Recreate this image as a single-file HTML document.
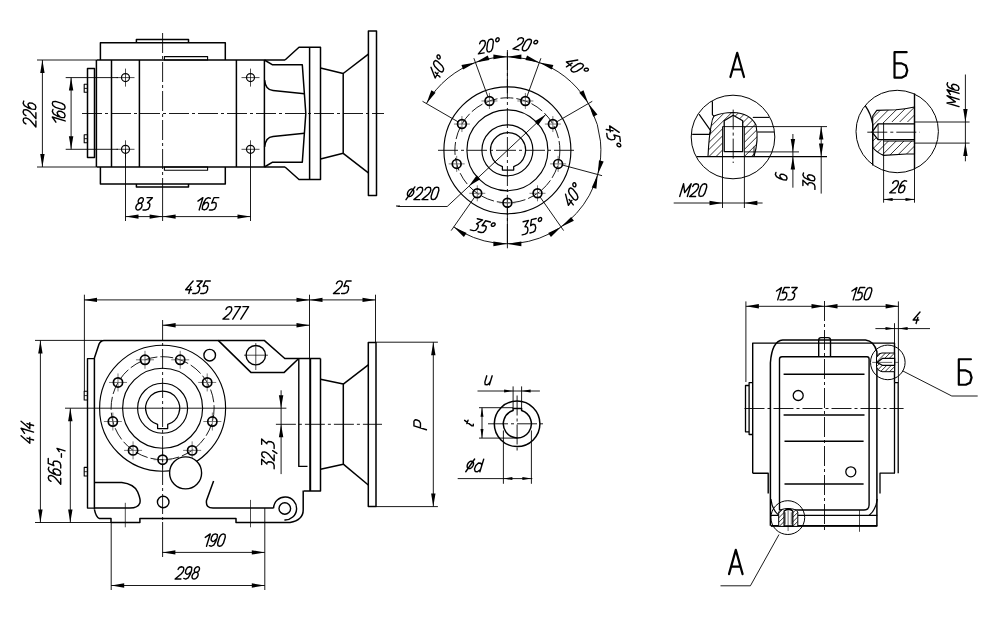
<!DOCTYPE html>
<html><head><meta charset="utf-8"><style>
html,body{margin:0;padding:0;background:#fff;}
svg{display:block;}
text{font-family:"Liberation Sans",sans-serif;fill:#000;}
</style></head><body>
<svg width="990" height="624" viewBox="0 0 990 624">
<polyline points="136.4,42.7 136.4,39.5 188.5,39.5 188.5,42.7" fill="none" stroke="#000" stroke-width="1.5" stroke-linejoin="round"/>
<polyline points="100.4,60 100.4,42.7 225.3,42.7 225.3,60" fill="none" stroke="#000" stroke-width="1.5" stroke-linejoin="round"/>
<polygon points="164.4,56.6 207.6,56.6 207.6,60 164.4,60" fill="none" stroke="#000" stroke-width="1.1" stroke-linejoin="round"/>
<polyline points="136.4,184 136.4,187.1 188.5,187.1 188.5,184" fill="none" stroke="#000" stroke-width="1.5" stroke-linejoin="round"/>
<polyline points="100.4,167 100.4,184 225.3,184 225.3,167" fill="none" stroke="#000" stroke-width="1.5" stroke-linejoin="round"/>
<polygon points="164.4,167 207.6,167 207.6,170.2 164.4,170.2" fill="none" stroke="#000" stroke-width="1.1" stroke-linejoin="round"/>
<line x1="96.4" y1="60" x2="285" y2="60" stroke="#000" stroke-width="1.5"/>
<line x1="96.4" y1="167" x2="285" y2="167" stroke="#000" stroke-width="1.5"/>
<line x1="96.4" y1="60" x2="96.4" y2="167" stroke="#000" stroke-width="1.5"/>
<line x1="111.5" y1="60" x2="111.5" y2="167" stroke="#000" stroke-width="1.5"/>
<line x1="139.4" y1="60" x2="139.4" y2="167" stroke="#000" stroke-width="1.5"/>
<line x1="236.4" y1="60" x2="236.4" y2="167" stroke="#000" stroke-width="1.5"/>
<line x1="264.4" y1="60" x2="264.4" y2="167" stroke="#000" stroke-width="1.5"/>
<polygon points="87.5,68.5 94.5,68.5 94.5,157.4 87.5,157.4" fill="none" stroke="#000" stroke-width="1.5" stroke-linejoin="round"/>
<polygon points="84.2,84.2 87.5,84.2 87.5,92.3 84.2,92.3" fill="none" stroke="#000" stroke-width="1.1" stroke-linejoin="round"/>
<polygon points="84.2,134.7 87.5,134.7 87.5,142.8 84.2,142.8" fill="none" stroke="#000" stroke-width="1.1" stroke-linejoin="round"/>
<line x1="84.2" y1="88.4" x2="87.5" y2="88.4" stroke="#000" stroke-width="0.9"/>
<line x1="84.2" y1="138.7" x2="87.5" y2="138.7" stroke="#000" stroke-width="0.9"/>
<circle cx="125.5" cy="77.6" r="4" fill="none" stroke="#000" stroke-width="1.2"/>
<line x1="116.5" y1="77.6" x2="134.5" y2="77.6" stroke="#000" stroke-width="0.7"/>
<line x1="125.5" y1="68.6" x2="125.5" y2="86.6" stroke="#000" stroke-width="0.7"/>
<circle cx="125.5" cy="149.3" r="4" fill="none" stroke="#000" stroke-width="1.2"/>
<line x1="116.5" y1="149.3" x2="134.5" y2="149.3" stroke="#000" stroke-width="0.7"/>
<line x1="125.5" y1="140.3" x2="125.5" y2="158.3" stroke="#000" stroke-width="0.7"/>
<circle cx="250.5" cy="77.6" r="4" fill="none" stroke="#000" stroke-width="1.2"/>
<line x1="241.5" y1="77.6" x2="259.5" y2="77.6" stroke="#000" stroke-width="0.7"/>
<line x1="250.5" y1="68.6" x2="250.5" y2="86.6" stroke="#000" stroke-width="0.7"/>
<circle cx="250.5" cy="149.3" r="4" fill="none" stroke="#000" stroke-width="1.2"/>
<line x1="241.5" y1="149.3" x2="259.5" y2="149.3" stroke="#000" stroke-width="0.7"/>
<line x1="250.5" y1="140.3" x2="250.5" y2="158.3" stroke="#000" stroke-width="0.7"/>
<line x1="162.6" y1="33" x2="162.6" y2="187" stroke="#000" stroke-width="0.9" stroke-dasharray="20 3 3 3"/>
<line x1="162.6" y1="187" x2="162.6" y2="221" stroke="#000" stroke-width="0.9"/>
<line x1="82" y1="113.5" x2="384" y2="113.5" stroke="#000" stroke-width="0.9" stroke-dasharray="20 3 3 3"/>
<path d="M264.4 60 L272.2 64.7 L302.3 64.7 L305.8 113.5 L302.3 162.3 L272.2 162.3 L264.4 167" fill="none" stroke="#000" stroke-width="1.5" stroke-linejoin="round" />
<path d="M264.6 80 Q265.5 90 273 90.6 L304.5 93.7" fill="none" stroke="#000" stroke-width="1.5" stroke-linejoin="round" />
<path d="M264.6 147 Q265.5 137 273 136.4 L304.5 133.3" fill="none" stroke="#000" stroke-width="1.5" stroke-linejoin="round" />
<polyline points="285,60 299,47.3 320.5,47.3 320.5,179.5 299,179.5 285,167" fill="none" stroke="#000" stroke-width="1.5" stroke-linejoin="round"/>
<line x1="309.6" y1="47.3" x2="309.6" y2="179.5" stroke="#000" stroke-width="1.5"/>
<polyline points="320.5,68 343.2,73.5 343.2,153.3 320.5,158.9" fill="none" stroke="#000" stroke-width="1.5" stroke-linejoin="round"/>
<line x1="343.2" y1="73.5" x2="368.4" y2="54.1" stroke="#000" stroke-width="1.5"/>
<line x1="343.2" y1="153.3" x2="368.4" y2="172.8" stroke="#000" stroke-width="1.5"/>
<polygon points="368.4,30.9 376.5,30.9 376.5,195.5 368.4,195.5" fill="none" stroke="#000" stroke-width="1.5" stroke-linejoin="round"/>
<line x1="37" y1="60" x2="96" y2="60" stroke="#000" stroke-width="0.9"/>
<line x1="37" y1="167" x2="96" y2="167" stroke="#000" stroke-width="0.9"/>
<line x1="42.4" y1="60" x2="42.4" y2="167" stroke="#000" stroke-width="0.9"/>
<polygon points="42.4,60 44.6,73 40.2,73" fill="#000"/>
<polygon points="42.4,167 40.2,154 44.6,154" fill="#000"/>
<line x1="65.7" y1="77.6" x2="118" y2="77.6" stroke="#000" stroke-width="0.9"/>
<line x1="65.7" y1="149.3" x2="118" y2="149.3" stroke="#000" stroke-width="0.9"/>
<line x1="71.1" y1="77.6" x2="71.1" y2="149.3" stroke="#000" stroke-width="0.9"/>
<polygon points="71.1,77.6 73.3,90.6 68.9,90.6" fill="#000"/>
<polygon points="71.1,149.3 68.9,136.3 73.3,136.3" fill="#000"/>
<path transform="translate(29.5 113.7) rotate(-90)" d="M-10.23 -3.58 L-8.88 -5.63 L-6.66 -6.4 L-4.63 -5.76 L-4.22 -3.58 L-5.1 -1.28 L-6.79 0.9 L-13.28 6.4 L-7.27 6.4 M-1.91 -3.58 L-0.56 -5.63 L1.66 -6.4 L3.69 -5.76 L4.1 -3.58 L3.22 -1.28 L1.53 0.9 L-4.96 6.4 L1.05 6.4 M12.61 -5.76 L10.58 -6.4 L8.08 -5.12 L5.96 -1.54 L4.53 2.56 L4.31 5.63 L6.36 6.4 L8.7 5.63 L10.43 2.94 L10.85 0 L9.39 -1.54 L7.43 -1.02 L5.48 1.02" fill="none" stroke="#000" stroke-width="1.4" stroke-linecap="round" stroke-linejoin="round"/>
<path transform="translate(58.7 112.7) rotate(-90)" d="M-9.51 -2.82 L-4.32 -6.4 L-8.23 6.4 M3.33 -5.76 L1.3 -6.4 L-1.2 -5.12 L-3.32 -1.54 L-4.75 2.56 L-4.97 5.63 L-2.92 6.4 L-0.58 5.63 L1.15 2.94 L1.57 0 L0.11 -1.54 L-1.85 -1.02 L-3.8 1.02 M9.32 -6.4 L11.05 -5.76 L11.35 -3.2 L9.39 3.2 L7.52 5.76 L5.4 6.4 L3.67 5.76 L3.37 3.2 L5.33 -3.2 L7.2 -5.76 L9.32 -6.4" fill="none" stroke="#000" stroke-width="1.4" stroke-linecap="round" stroke-linejoin="round"/>
<line x1="125.5" y1="149.3" x2="125.5" y2="221" stroke="#000" stroke-width="0.9"/>
<line x1="250.5" y1="149.3" x2="250.5" y2="221" stroke="#000" stroke-width="0.9"/>
<line x1="125.5" y1="216.6" x2="162.6" y2="216.6" stroke="#000" stroke-width="0.9"/>
<polygon points="125.5,216.6 138.5,214.4 138.5,218.8" fill="#000"/>
<polygon points="162.6,216.6 149.6,218.8 149.6,214.4" fill="#000"/>
<line x1="162.6" y1="216.6" x2="250.5" y2="216.6" stroke="#000" stroke-width="0.9"/>
<polygon points="162.6,216.6 175.6,214.4 175.6,218.8" fill="#000"/>
<polygon points="250.5,216.6 237.5,218.8 237.5,214.4" fill="#000"/>
<path transform="translate(143.7 203.8)" d="M-0.49 -3.32 L-0.35 -4.05 L-0.39 -4.74 L-0.59 -5.32 L-0.96 -5.77 L-1.46 -6.05 L-2.06 -6.15 L-2.71 -6.05 L-3.39 -5.77 L-4.03 -5.32 L-4.59 -4.74 L-5.04 -4.05 L-5.35 -3.32 L-5.49 -2.59 L-5.46 -1.91 L-5.25 -1.32 L-4.88 -0.87 L-4.38 -0.59 L-3.79 -0.49 L-3.13 -0.59 L-2.46 -0.87 L-1.82 -1.32 L-1.25 -1.91 L-0.8 -2.59 L-0.49 -3.32 M-1.87 2.71 L-1.7 1.81 L-1.73 0.98 L-1.97 0.27 L-2.41 -0.28 L-3 -0.62 L-3.71 -0.74 L-4.49 -0.62 L-5.3 -0.28 L-6.06 0.27 L-6.74 0.98 L-7.28 1.81 L-7.65 2.71 L-7.83 3.6 L-7.79 4.43 L-7.55 5.14 L-7.12 5.69 L-6.53 6.03 L-5.82 6.15 L-5.03 6.03 L-4.23 5.69 L-3.46 5.14 L-2.79 4.43 L-2.24 3.6 L-1.87 2.71 M3.33 -6.15 L8.71 -6.15 L3.85 -0.98 L4.98 -0.98 L6.15 0.37 L5.92 2.95 L4.49 5.41 L2.4 6.15 L-0.71 6.15" fill="none" stroke="#000" stroke-width="1.4" stroke-linecap="round" stroke-linejoin="round"/>
<path transform="translate(207 203.8)" d="M-9.07 -2.71 L-4.09 -6.15 L-7.85 6.15 M3.26 -5.54 L1.31 -6.15 L-1.09 -4.92 L-3.13 -1.48 L-4.5 2.46 L-4.71 5.41 L-2.74 6.15 L-0.49 5.41 L1.16 2.83 L1.57 0 L0.17 -1.48 L-1.72 -0.98 L-3.59 0.98 M11.78 -6.15 L6.97 -6.15 L4.71 -0.62 L7.24 -1.48 L9.07 -0.62 L9.15 2.46 L7.61 5.29 L5.48 6.15 L2.36 6.15" fill="none" stroke="#000" stroke-width="1.4" stroke-linecap="round" stroke-linejoin="round"/>
<line x1="396" y1="206" x2="400" y2="206" stroke="#000" stroke-width="1"/>
<circle cx="507.4" cy="150.3" r="63.5" fill="none" stroke="#000" stroke-width="1.15"/>
<circle cx="507.4" cy="150.3" r="40.5" fill="none" stroke="#000" stroke-width="1.15"/>
<circle cx="507.4" cy="150.3" r="25.5" fill="none" stroke="#000" stroke-width="1.15"/>
<path d="M502.4 166.63 A17.5 17.5 0 1 1 513.7 166.63 L513.7 170 L502.4 170 Z" fill="none" stroke="#000" stroke-width="1.25" stroke-linejoin="round" />
<circle cx="507.4" cy="150.3" r="52.5" fill="none" stroke="#000" stroke-width="0.9" stroke-dasharray="13 3"/>
<line x1="507.4" y1="50" x2="507.4" y2="247" stroke="#000" stroke-width="0.9" stroke-dasharray="20 3 3 3"/>
<line x1="438" y1="150.3" x2="577" y2="150.3" stroke="#000" stroke-width="0.9" stroke-dasharray="20 3 3 3"/>
<line x1="481.44" y1="100.97" x2="497.44" y2="100.97" stroke="#555" stroke-width="0.8"/>
<line x1="489.44" y1="92.97" x2="489.44" y2="108.97" stroke="#555" stroke-width="0.8"/>
<circle cx="489.44" cy="100.97" r="4.4" fill="none" stroke="#000" stroke-width="1.7"/>
<line x1="517.36" y1="100.97" x2="533.36" y2="100.97" stroke="#555" stroke-width="0.8"/>
<line x1="525.36" y1="92.97" x2="525.36" y2="108.97" stroke="#555" stroke-width="0.8"/>
<circle cx="525.36" cy="100.97" r="4.4" fill="none" stroke="#000" stroke-width="1.7"/>
<line x1="544.87" y1="124.05" x2="560.87" y2="124.05" stroke="#555" stroke-width="0.8"/>
<line x1="552.87" y1="116.05" x2="552.87" y2="132.05" stroke="#555" stroke-width="0.8"/>
<circle cx="552.87" cy="124.05" r="4.4" fill="none" stroke="#000" stroke-width="1.7"/>
<line x1="550.11" y1="163.89" x2="566.11" y2="163.89" stroke="#555" stroke-width="0.8"/>
<line x1="558.11" y1="155.89" x2="558.11" y2="171.89" stroke="#555" stroke-width="0.8"/>
<circle cx="558.11" cy="163.89" r="4.4" fill="none" stroke="#000" stroke-width="1.7"/>
<line x1="529.51" y1="193.31" x2="545.51" y2="193.31" stroke="#555" stroke-width="0.8"/>
<line x1="537.51" y1="185.31" x2="537.51" y2="201.31" stroke="#555" stroke-width="0.8"/>
<circle cx="537.51" cy="193.31" r="4.4" fill="none" stroke="#000" stroke-width="1.7"/>
<line x1="499.4" y1="202.8" x2="515.4" y2="202.8" stroke="#555" stroke-width="0.8"/>
<line x1="507.4" y1="194.8" x2="507.4" y2="210.8" stroke="#555" stroke-width="0.8"/>
<circle cx="507.4" cy="202.8" r="4.4" fill="none" stroke="#000" stroke-width="1.7"/>
<line x1="469.29" y1="193.31" x2="485.29" y2="193.31" stroke="#555" stroke-width="0.8"/>
<line x1="477.29" y1="185.31" x2="477.29" y2="201.31" stroke="#555" stroke-width="0.8"/>
<circle cx="477.29" cy="193.31" r="4.4" fill="none" stroke="#000" stroke-width="1.7"/>
<line x1="448.69" y1="163.89" x2="464.69" y2="163.89" stroke="#555" stroke-width="0.8"/>
<line x1="456.69" y1="155.89" x2="456.69" y2="171.89" stroke="#555" stroke-width="0.8"/>
<circle cx="456.69" cy="163.89" r="4.4" fill="none" stroke="#000" stroke-width="1.7"/>
<line x1="453.93" y1="124.05" x2="469.93" y2="124.05" stroke="#555" stroke-width="0.8"/>
<line x1="461.93" y1="116.05" x2="461.93" y2="132.05" stroke="#555" stroke-width="0.8"/>
<circle cx="461.93" cy="124.05" r="4.4" fill="none" stroke="#000" stroke-width="1.7"/>
<line x1="458.04" y1="121.8" x2="422.53" y2="101.3" stroke="#000" stroke-width="0.9"/>
<line x1="487.9" y1="96.74" x2="473.88" y2="58.21" stroke="#000" stroke-width="0.9"/>
<line x1="507.4" y1="93.3" x2="507.4" y2="52.3" stroke="#000" stroke-width="0.9"/>
<line x1="526.9" y1="96.74" x2="540.92" y2="58.21" stroke="#000" stroke-width="0.9"/>
<line x1="556.76" y1="121.8" x2="592.27" y2="101.3" stroke="#000" stroke-width="0.9"/>
<line x1="562.46" y1="165.05" x2="602.06" y2="175.66" stroke="#000" stroke-width="0.9"/>
<line x1="540.09" y1="196.99" x2="563.61" y2="230.58" stroke="#000" stroke-width="0.9"/>
<line x1="507.4" y1="207.3" x2="507.4" y2="248.3" stroke="#000" stroke-width="0.9"/>
<line x1="474.71" y1="196.99" x2="451.19" y2="230.58" stroke="#000" stroke-width="0.9"/>
<path d="M426.43 103.55 A93.5 93.5 0 0 1 597.71 174.5" fill="none" stroke="#000" stroke-width="0.9" stroke-linejoin="round" />
<path d="M597.71 174.5 A93.5 93.5 0 0 1 453.77 226.89" fill="none" stroke="#000" stroke-width="0.9" stroke-linejoin="round" />
<polygon points="426.43,103.55 431.35,90.23 435.51,92.63" fill="#000"/>
<polygon points="475.42,62.44 463.09,69.48 461.44,64.97" fill="#000"/>
<polygon points="475.42,62.44 487.76,55.4 489.4,59.91" fill="#000"/>
<polygon points="507.4,56.8 493.4,59.2 493.4,54.4" fill="#000"/>
<polygon points="507.4,56.8 521.4,54.4 521.4,59.2" fill="#000"/>
<polygon points="539.38,62.44 525.4,59.91 527.04,55.4" fill="#000"/>
<polygon points="539.38,62.44 553.36,64.97 551.71,69.48" fill="#000"/>
<polygon points="588.37,103.55 579.29,92.63 583.45,90.23" fill="#000"/>
<polygon points="588.37,103.55 597.45,114.47 593.29,116.87" fill="#000"/>
<polygon points="597.71,174.5 599.02,160.36 603.66,161.6" fill="#000"/>
<polygon points="597.71,174.5 596.41,188.64 591.77,187.4" fill="#000"/>
<polygon points="561.03,226.89 571.12,216.89 573.87,220.83" fill="#000"/>
<polygon points="561.03,226.89 550.94,236.89 548.18,232.95" fill="#000"/>
<polygon points="507.4,243.8 521.4,241.4 521.4,246.2" fill="#000"/>
<polygon points="507.4,243.8 493.4,246.2 493.4,241.4" fill="#000"/>
<polygon points="453.77,226.89 466.62,232.95 463.86,236.89" fill="#000"/>
<line x1="545.8" y1="114.5" x2="447.2" y2="206.5" stroke="#000" stroke-width="0.9"/>
<line x1="447.2" y1="206.5" x2="397.6" y2="206.5" stroke="#000" stroke-width="0.9"/>
<polygon points="545.8,114.5 538.06,125.26 534.52,121.46" fill="#000"/>
<polygon points="469,186.1 476.74,175.34 480.28,179.14" fill="#000"/>
<path transform="translate(422.6 193.4)" d="M-9 -0.63 L-8.8 -1.6 L-8.83 -2.5 L-9.06 -3.28 L-9.5 -3.87 L-10.11 -4.25 L-10.85 -4.38 L-11.67 -4.25 L-12.5 -3.87 L-13.31 -3.28 L-14.02 -2.5 L-14.6 -1.6 L-15 -0.63 L-15.19 0.35 L-15.17 1.25 L-14.93 2.03 L-14.49 2.62 L-13.88 3 L-13.14 3.12 L-12.33 3 L-11.49 2.62 L-10.69 2.03 L-9.97 1.25 L-9.4 0.35 L-9 -0.62 M-16.6 6.25 L-7.7 -6.5 M-5.74 -3.5 L-4.43 -5.5 L-2.26 -6.25 L-0.28 -5.62 L0.13 -3.5 L-0.73 -1.25 L-2.38 0.88 L-8.72 6.25 L-2.85 6.25 M2.38 -3.5 L3.7 -5.5 L5.87 -6.25 L7.85 -5.62 L8.26 -3.5 L7.39 -1.25 L5.74 0.88 L-0.6 6.25 L5.28 6.25 M14.29 -6.25 L15.97 -5.62 L16.27 -3.12 L14.36 3.12 L12.54 5.62 L10.46 6.25 L8.78 5.62 L8.48 3.12 L10.39 -3.12 L12.21 -5.62 L14.29 -6.25" fill="none" stroke="#000" stroke-width="1.4" stroke-linecap="round" stroke-linejoin="round"/>
<path transform="translate(438 67.4) rotate(-62)" d="M-3.23 -6.25 L-10.7 2.5 L-4.7 2.5 M-5.54 -0.25 L-7.53 6.25 M3.16 -6.25 L4.85 -5.62 L5.14 -3.12 L3.23 3.12 L1.41 5.62 L-0.66 6.25 L-2.35 5.62 L-2.64 3.12 L-0.73 -3.12 L1.09 -5.62 L3.16 -6.25 M11.28 -4.38 L11.33 -5.31 L10.9 -6 L10.1 -6.25 L9.15 -6 L8.3 -5.31 L7.78 -4.38 L7.72 -3.44 L8.15 -2.75 L8.95 -2.5 L9.9 -2.75 L10.75 -3.44 L11.28 -4.38" fill="none" stroke="#000" stroke-width="1.4" stroke-linecap="round" stroke-linejoin="round"/>
<path transform="translate(488.9 45.7) rotate(-10)" d="M-8.8 -3.5 L-7.49 -5.5 L-5.32 -6.25 L-3.34 -5.62 L-2.93 -3.5 L-3.79 -1.25 L-5.44 0.88 L-11.79 6.25 L-5.91 6.25 M3.1 -6.25 L4.79 -5.62 L5.08 -3.12 L3.17 3.12 L1.35 5.62 L-0.72 6.25 L-2.41 5.62 L-2.71 3.12 L-0.79 -3.12 L1.03 -5.62 L3.1 -6.25 M11.21 -4.38 L11.26 -5.31 L10.83 -6 L10.04 -6.25 L9.08 -6 L8.23 -5.31 L7.71 -4.38 L7.66 -3.44 L8.09 -2.75 L8.89 -2.5 L9.84 -2.75 L10.69 -3.44 L11.21 -4.38" fill="none" stroke="#000" stroke-width="1.4" stroke-linecap="round" stroke-linejoin="round"/>
<path transform="translate(525.7 44.8) rotate(10)" d="M-8.8 -3.5 L-7.49 -5.5 L-5.32 -6.25 L-3.34 -5.62 L-2.93 -3.5 L-3.79 -1.25 L-5.44 0.88 L-11.79 6.25 L-5.91 6.25 M3.1 -6.25 L4.79 -5.62 L5.08 -3.12 L3.17 3.12 L1.35 5.62 L-0.72 6.25 L-2.41 5.62 L-2.71 3.12 L-0.79 -3.12 L1.03 -5.62 L3.1 -6.25 M11.21 -4.38 L11.26 -5.31 L10.83 -6 L10.04 -6.25 L9.08 -6 L8.23 -5.31 L7.71 -4.38 L7.66 -3.44 L8.09 -2.75 L8.89 -2.5 L9.84 -2.75 L10.69 -3.44 L11.21 -4.38" fill="none" stroke="#000" stroke-width="1.4" stroke-linecap="round" stroke-linejoin="round"/>
<path transform="translate(576.2 66.9) rotate(40)" d="M-3.23 -6.25 L-10.7 2.5 L-4.7 2.5 M-5.54 -0.25 L-7.53 6.25 M3.16 -6.25 L4.85 -5.62 L5.14 -3.12 L3.23 3.12 L1.41 5.62 L-0.66 6.25 L-2.35 5.62 L-2.64 3.12 L-0.73 -3.12 L1.09 -5.62 L3.16 -6.25 M11.28 -4.38 L11.33 -5.31 L10.9 -6 L10.1 -6.25 L9.15 -6 L8.3 -5.31 L7.78 -4.38 L7.72 -3.44 L8.15 -2.75 L8.95 -2.5 L9.9 -2.75 L10.75 -3.44 L11.28 -4.38" fill="none" stroke="#000" stroke-width="1.4" stroke-linecap="round" stroke-linejoin="round"/>
<path transform="translate(613.4 136.2) rotate(83)" d="M-3.16 -6.25 L-10.64 2.5 L-4.64 2.5 M-5.48 -0.25 L-7.47 6.25 M6.04 -6.25 L1.15 -6.25 L-1.15 -0.63 L1.42 -1.5 L3.28 -0.63 L3.36 2.5 L1.79 5.38 L-0.37 6.25 L-3.54 6.25 M11.21 -4.38 L11.26 -5.31 L10.83 -6 L10.04 -6.25 L9.08 -6 L8.23 -5.31 L7.71 -4.38 L7.66 -3.44 L8.09 -2.75 L8.89 -2.5 L9.84 -2.75 L10.69 -3.44 L11.21 -4.38" fill="none" stroke="#000" stroke-width="1.4" stroke-linecap="round" stroke-linejoin="round"/>
<path transform="translate(572.5 195.1) rotate(-55)" d="M-3.23 -6.25 L-10.7 2.5 L-4.7 2.5 M-5.54 -0.25 L-7.53 6.25 M3.16 -6.25 L4.85 -5.62 L5.14 -3.12 L3.23 3.12 L1.41 5.62 L-0.66 6.25 L-2.35 5.62 L-2.64 3.12 L-0.73 -3.12 L1.09 -5.62 L3.16 -6.25 M11.28 -4.38 L11.33 -5.31 L10.9 -6 L10.1 -6.25 L9.15 -6 L8.3 -5.31 L7.78 -4.38 L7.72 -3.44 L8.15 -2.75 L8.95 -2.5 L9.9 -2.75 L10.75 -3.44 L11.28 -4.38" fill="none" stroke="#000" stroke-width="1.4" stroke-linecap="round" stroke-linejoin="round"/>
<path transform="translate(483.1 226.6) rotate(14)" d="M-7.55 -6.25 L-2.09 -6.25 L-7.03 -1 L-5.88 -1 L-4.69 0.38 L-4.92 3 L-6.37 5.5 L-8.5 6.25 L-11.66 6.25 M5.91 -6.25 L1.02 -6.25 L-1.27 -0.63 L1.3 -1.5 L3.16 -0.63 L3.24 2.5 L1.67 5.38 L-0.5 6.25 L-3.66 6.25 M11.09 -4.38 L11.14 -5.31 L10.71 -6 L9.91 -6.25 L8.96 -6 L8.11 -5.31 L7.59 -4.38 L7.54 -3.44 L7.97 -2.75 L8.76 -2.5 L9.72 -2.75 L10.57 -3.44 L11.09 -4.38" fill="none" stroke="#000" stroke-width="1.4" stroke-linecap="round" stroke-linejoin="round"/>
<path transform="translate(532 226) rotate(-14)" d="M-7.55 -6.25 L-2.09 -6.25 L-7.03 -1 L-5.88 -1 L-4.69 0.38 L-4.92 3 L-6.37 5.5 L-8.5 6.25 L-11.66 6.25 M5.91 -6.25 L1.02 -6.25 L-1.27 -0.63 L1.3 -1.5 L3.16 -0.63 L3.24 2.5 L1.67 5.38 L-0.5 6.25 L-3.66 6.25 M11.09 -4.38 L11.14 -5.31 L10.71 -6 L9.91 -6.25 L8.96 -6 L8.11 -5.31 L7.59 -4.38 L7.54 -3.44 L7.97 -2.75 L8.76 -2.5 L9.72 -2.75 L10.57 -3.44 L11.09 -4.38" fill="none" stroke="#000" stroke-width="1.4" stroke-linecap="round" stroke-linejoin="round"/>
<path transform="translate(737.2 64.9)" d="M-6.8 12.15 L-0 -12.15 L6.8 12.15 M-4.22 4.62 L4.22 4.62" fill="none" stroke="#000" stroke-width="2.2" stroke-linecap="round" stroke-linejoin="round"/>
<circle cx="733" cy="137" r="41.8" fill="none" stroke="#000" stroke-width="1.0"/>
<clipPath id="hc1"><path clip-rule="evenodd" d="M714 116 Q722 112.5 733 112.5 Q750 113 756 125 Q759 140 754 156.5 L708 156.5 Q709 135 711.5 124 Q712 119 714 116 Z M722.5 126.6 L722.5 156.5 L744.4 156.5 L744.4 126.6 L742.7 126.6 L742.7 120.8 L733.2 115.2 L724.2 120.8 L724.2 126.6 Z"/></clipPath>
<g clip-path="url(#hc1)"><line x1="658" y1="158" x2="706" y2="110" stroke="#000" stroke-width="0.8"/><line x1="665.07" y1="158" x2="713.07" y2="110" stroke="#000" stroke-width="0.8"/><line x1="672.14" y1="158" x2="720.14" y2="110" stroke="#000" stroke-width="0.8"/><line x1="679.21" y1="158" x2="727.21" y2="110" stroke="#000" stroke-width="0.8"/><line x1="686.28" y1="158" x2="734.28" y2="110" stroke="#000" stroke-width="0.8"/><line x1="693.35" y1="158" x2="741.35" y2="110" stroke="#000" stroke-width="0.8"/><line x1="700.42" y1="158" x2="748.42" y2="110" stroke="#000" stroke-width="0.8"/><line x1="707.49" y1="158" x2="755.49" y2="110" stroke="#000" stroke-width="0.8"/><line x1="714.56" y1="158" x2="762.56" y2="110" stroke="#000" stroke-width="0.8"/><line x1="721.63" y1="158" x2="769.63" y2="110" stroke="#000" stroke-width="0.8"/><line x1="728.7" y1="158" x2="776.7" y2="110" stroke="#000" stroke-width="0.8"/><line x1="735.77" y1="158" x2="783.77" y2="110" stroke="#000" stroke-width="0.8"/><line x1="742.84" y1="158" x2="790.84" y2="110" stroke="#000" stroke-width="0.8"/><line x1="749.91" y1="158" x2="797.91" y2="110" stroke="#000" stroke-width="0.8"/><line x1="756.98" y1="158" x2="804.98" y2="110" stroke="#000" stroke-width="0.8"/></g>
<path d="M714 116 Q722 112.5 733 112.5 Q750 113 756 125 Q759 140 754 156.5 L708 156.5 Q709 135 711.5 124 Q712 119 714 116 Z" fill="none" stroke="#000" stroke-width="1.1"/>
<polyline points="724.2,151.7 724.2,120.8 733.2,115.2 742.7,120.8 742.7,151.7 724.2,151.7" fill="none" stroke="#000" stroke-width="1.3" stroke-linejoin="round"/>
<line x1="722.5" y1="126.6" x2="722.5" y2="208" stroke="#000" stroke-width="0.9"/>
<line x1="744.4" y1="126.6" x2="744.4" y2="208" stroke="#000" stroke-width="0.9"/>
<line x1="722.5" y1="126.6" x2="827" y2="126.6" stroke="#000" stroke-width="0.9"/>
<line x1="696.7" y1="156.6" x2="827" y2="156.6" stroke="#000" stroke-width="1.1"/>
<line x1="744.4" y1="151.9" x2="799" y2="151.9" stroke="#000" stroke-width="0.9"/>
<line x1="752.8" y1="117.4" x2="769" y2="117.4" stroke="#000" stroke-width="1.1"/>
<line x1="757.3" y1="132" x2="774.2" y2="132" stroke="#000" stroke-width="1.1"/>
<line x1="754" y1="146.6" x2="754" y2="156.6" stroke="#000" stroke-width="0.9"/>
<polyline points="712.4,101.2 712.4,114.6 714.1,116.3" fill="none" stroke="#000" stroke-width="1.2" stroke-linejoin="round"/>
<polyline points="699,114.1 710.8,130.9 709.6,134.3 692.2,134.3" fill="none" stroke="#000" stroke-width="1.2" stroke-linejoin="round"/>
<line x1="733.2" y1="109.6" x2="733.2" y2="163" stroke="#000" stroke-width="0.9" stroke-dasharray="20 3 3 3"/>
<line x1="673.7" y1="203" x2="762.6" y2="203" stroke="#000" stroke-width="0.9"/>
<polygon points="722.5,203 709.5,205.2 709.5,200.8" fill="#000"/>
<polygon points="744.4,203 757.4,200.8 757.4,205.2" fill="#000"/>
<path transform="translate(693.7 190.1)" d="M-14.01 6.35 L-10.12 -6.35 L-9.03 2.54 L-2.5 -6.35 L-6.39 6.35 M-1.07 -3.56 L0.27 -5.59 L2.47 -6.35 L4.48 -5.71 L4.9 -3.56 L4.02 -1.27 L2.34 0.89 L-4.1 6.35 L1.87 6.35 M11.02 -6.35 L12.74 -5.71 L13.04 -3.17 L11.09 3.17 L9.24 5.71 L7.14 6.35 L5.42 5.71 L5.13 3.17 L7.07 -3.17 L8.92 -5.71 L11.02 -6.35" fill="none" stroke="#000" stroke-width="1.4" stroke-linecap="round" stroke-linejoin="round"/>
<line x1="792.9" y1="134" x2="792.9" y2="187.7" stroke="#000" stroke-width="0.9"/>
<polygon points="792.9,151.9 790.7,138.9 795.1,138.9" fill="#000"/>
<polygon points="792.9,156.6 795.1,169.6 790.7,169.6" fill="#000"/>
<path transform="translate(781.2 176.4) rotate(-90)" d="M3.92 -5.26 L2.06 -5.85 L-0.22 -4.68 L-2.16 -1.4 L-3.46 2.34 L-3.66 5.15 L-1.79 5.85 L0.35 5.15 L1.93 2.69 L2.31 0 L0.98 -1.4 L-0.81 -0.94 L-2.6 0.94" fill="none" stroke="#000" stroke-width="1.4" stroke-linecap="round" stroke-linejoin="round"/>
<line x1="821.2" y1="126.6" x2="821.2" y2="193.6" stroke="#000" stroke-width="0.9"/>
<polygon points="821.2,126.6 823.4,139.6 819,139.6" fill="#000"/>
<polygon points="821.2,156.6 819,143.6 823.4,143.6" fill="#000"/>
<path transform="translate(808.9 180.9) rotate(-90)" d="M-4.55 -6 L0.69 -6 L-4.05 -0.96 L-2.94 -0.96 L-1.8 0.36 L-2.02 2.88 L-3.42 5.28 L-5.46 6 L-8.49 6 M7.86 -5.4 L5.96 -6 L3.62 -4.8 L1.63 -1.44 L0.29 2.4 L0.08 5.28 L2.01 6 L4.2 5.28 L5.82 2.76 L6.21 0 L4.84 -1.44 L3.01 -0.96 L1.18 0.96" fill="none" stroke="#000" stroke-width="1.4" stroke-linecap="round" stroke-linejoin="round"/>
<path transform="translate(900.9 64.9)" d="M5.74 -12.75 L-6.38 -12.75 L-6.38 12.75 L0.64 12.75 L4.85 10.71 L6.38 5.61 L4.85 0.51 L0.64 -1.53 L-6.38 -1.53" fill="none" stroke="#000" stroke-width="2.2" stroke-linecap="round" stroke-linejoin="round"/>
<circle cx="897.2" cy="131.5" r="41.2" fill="none" stroke="#000" stroke-width="1.0"/>
<line x1="914.5" y1="93.4" x2="914.5" y2="169" stroke="#000" stroke-width="1.4"/>
<path d="M865.2 105.7 Q871 114 872.7 124 L872.7 165.6" fill="none" stroke="#000" stroke-width="1.3" stroke-linejoin="round" />
<clipPath id="hc2"><path clip-rule="evenodd" d="M872.7 116 L876.8 110.4 L895.9 109.7 Q905 109 914.5 107 L914.5 154 L906.7 154 L883.6 155.4 Q876 152 872.7 147.2 Z M914.5 122 L883.6 122 L878.1 123.8 L872 132.2 L878.1 139.7 L883.6 141.1 L914.5 141.1 Z"/></clipPath>
<g clip-path="url(#hc2)"><line x1="818" y1="157" x2="870" y2="105" stroke="#000" stroke-width="0.8"/><line x1="825.78" y1="157" x2="877.78" y2="105" stroke="#000" stroke-width="0.8"/><line x1="833.55" y1="157" x2="885.55" y2="105" stroke="#000" stroke-width="0.8"/><line x1="841.33" y1="157" x2="893.33" y2="105" stroke="#000" stroke-width="0.8"/><line x1="849.11" y1="157" x2="901.11" y2="105" stroke="#000" stroke-width="0.8"/><line x1="856.89" y1="157" x2="908.89" y2="105" stroke="#000" stroke-width="0.8"/><line x1="864.66" y1="157" x2="916.66" y2="105" stroke="#000" stroke-width="0.8"/><line x1="872.44" y1="157" x2="924.44" y2="105" stroke="#000" stroke-width="0.8"/><line x1="880.22" y1="157" x2="932.22" y2="105" stroke="#000" stroke-width="0.8"/><line x1="887.99" y1="157" x2="939.99" y2="105" stroke="#000" stroke-width="0.8"/><line x1="895.77" y1="157" x2="947.77" y2="105" stroke="#000" stroke-width="0.8"/><line x1="903.55" y1="157" x2="955.55" y2="105" stroke="#000" stroke-width="0.8"/><line x1="911.32" y1="157" x2="963.32" y2="105" stroke="#000" stroke-width="0.8"/></g>
<path d="M872.7 116 L876.8 110.4 L895.9 109.7 Q905 109 914.5 107 L914.5 154 L906.7 154 L883.6 155.4 Q876 152 872.7 147.2 Z" fill="none" stroke="#000" stroke-width="1.1"/>
<polyline points="914.5,123.8 878.1,123.8 872,132.2 878.1,139.7 914.5,139.7" fill="none" stroke="#000" stroke-width="1.3" stroke-linejoin="round"/>
<line x1="883.6" y1="122" x2="883.6" y2="202.7" stroke="#000" stroke-width="0.9"/>
<line x1="878.1" y1="123.8" x2="878.1" y2="139.7" stroke="#000" stroke-width="0.8"/>
<line x1="883.6" y1="141.1" x2="914.5" y2="141.1" stroke="#000" stroke-width="0.9"/>
<line x1="914.5" y1="122" x2="969.6" y2="122" stroke="#000" stroke-width="0.9"/>
<line x1="914.5" y1="143.1" x2="969.6" y2="143.1" stroke="#000" stroke-width="0.9"/>
<line x1="914.5" y1="165" x2="914.5" y2="202.7" stroke="#000" stroke-width="0.9"/>
<line x1="867.3" y1="132.2" x2="919.7" y2="132.2" stroke="#000" stroke-width="0.9" stroke-dasharray="20 3 3 3"/>
<line x1="965.4" y1="74.5" x2="965.4" y2="161.3" stroke="#000" stroke-width="0.9"/>
<polygon points="965.4,122 963.2,109 967.6,109" fill="#000"/>
<polygon points="965.4,143.1 967.6,156.1 963.2,156.1" fill="#000"/>
<path transform="translate(953 94.3) rotate(-90)" d="M-12.33 6 L-8.67 -6 L-7.63 2.4 L-1.47 -6 L-5.13 6 M-0.33 -2.64 L4.53 -6 L0.87 6 M11.7 -5.4 L9.8 -6 L7.46 -4.8 L5.47 -1.44 L4.13 2.4 L3.92 5.28 L5.85 6 L8.04 5.28 L9.66 2.76 L10.05 0 L8.68 -1.44 L6.85 -0.96 L5.02 0.96" fill="none" stroke="#000" stroke-width="1.4" stroke-linecap="round" stroke-linejoin="round"/>
<line x1="883.6" y1="199.4" x2="914.5" y2="199.4" stroke="#000" stroke-width="0.9"/>
<polygon points="883.6,199.4 892.6,197.9 892.6,200.9" fill="#000"/>
<polygon points="914.5,199.4 905.5,200.9 905.5,197.9" fill="#000"/>
<path transform="translate(898.5 186.7)" d="M-5.84 -3.44 L-4.54 -5.41 L-2.41 -6.15 L-0.46 -5.54 L-0.05 -3.44 L-0.9 -1.23 L-2.53 0.86 L-8.77 6.15 L-2.99 6.15 M8.12 -5.54 L6.17 -6.15 L3.77 -4.92 L1.73 -1.48 L0.35 2.46 L0.15 5.41 L2.12 6.15 L4.37 5.41 L6.02 2.83 L6.43 0 L5.03 -1.48 L3.14 -0.98 L1.27 0.98" fill="none" stroke="#000" stroke-width="1.4" stroke-linecap="round" stroke-linejoin="round"/>
<circle cx="162.6" cy="408.2" r="63" fill="none" stroke="#000" stroke-width="1.15"/>
<circle cx="162.6" cy="408.2" r="40" fill="none" stroke="#000" stroke-width="1.15"/>
<circle cx="162.6" cy="408.2" r="25" fill="none" stroke="#000" stroke-width="1.15"/>
<path d="M157.6 424.42 A17 17 0 1 1 167.7 424.42 L167.7 428.5 L157.6 428.5 Z" fill="none" stroke="#000" stroke-width="1.25" stroke-linejoin="round" />
<circle cx="162.6" cy="408.2" r="51.5" fill="none" stroke="#000" stroke-width="0.9" stroke-dasharray="13 3"/>
<line x1="135.99" y1="359.81" x2="153.99" y2="359.81" stroke="#555" stroke-width="0.8"/>
<line x1="144.99" y1="350.81" x2="144.99" y2="368.81" stroke="#555" stroke-width="0.8"/>
<circle cx="144.99" cy="359.81" r="4.6" fill="none" stroke="#000" stroke-width="1.7"/>
<line x1="171.21" y1="359.81" x2="189.21" y2="359.81" stroke="#555" stroke-width="0.8"/>
<line x1="180.21" y1="350.81" x2="180.21" y2="368.81" stroke="#555" stroke-width="0.8"/>
<circle cx="180.21" cy="359.81" r="4.6" fill="none" stroke="#000" stroke-width="1.7"/>
<line x1="198.2" y1="382.45" x2="216.2" y2="382.45" stroke="#555" stroke-width="0.8"/>
<line x1="207.2" y1="373.45" x2="207.2" y2="391.45" stroke="#555" stroke-width="0.8"/>
<circle cx="207.2" cy="382.45" r="4.6" fill="none" stroke="#000" stroke-width="1.7"/>
<line x1="203.35" y1="421.53" x2="221.35" y2="421.53" stroke="#555" stroke-width="0.8"/>
<line x1="212.35" y1="412.53" x2="212.35" y2="430.53" stroke="#555" stroke-width="0.8"/>
<circle cx="212.35" cy="421.53" r="4.6" fill="none" stroke="#000" stroke-width="1.7"/>
<line x1="183.14" y1="450.39" x2="201.14" y2="450.39" stroke="#555" stroke-width="0.8"/>
<line x1="192.14" y1="441.39" x2="192.14" y2="459.39" stroke="#555" stroke-width="0.8"/>
<circle cx="192.14" cy="450.39" r="4.6" fill="none" stroke="#000" stroke-width="1.7"/>
<line x1="153.6" y1="459.7" x2="171.6" y2="459.7" stroke="#555" stroke-width="0.8"/>
<line x1="162.6" y1="450.7" x2="162.6" y2="468.7" stroke="#555" stroke-width="0.8"/>
<circle cx="162.6" cy="459.7" r="4.6" fill="none" stroke="#000" stroke-width="1.7"/>
<line x1="124.06" y1="450.39" x2="142.06" y2="450.39" stroke="#555" stroke-width="0.8"/>
<line x1="133.06" y1="441.39" x2="133.06" y2="459.39" stroke="#555" stroke-width="0.8"/>
<circle cx="133.06" cy="450.39" r="4.6" fill="none" stroke="#000" stroke-width="1.7"/>
<line x1="103.85" y1="421.53" x2="121.85" y2="421.53" stroke="#555" stroke-width="0.8"/>
<line x1="112.85" y1="412.53" x2="112.85" y2="430.53" stroke="#555" stroke-width="0.8"/>
<circle cx="112.85" cy="421.53" r="4.6" fill="none" stroke="#000" stroke-width="1.7"/>
<line x1="109" y1="382.45" x2="127" y2="382.45" stroke="#555" stroke-width="0.8"/>
<line x1="118" y1="373.45" x2="118" y2="391.45" stroke="#555" stroke-width="0.8"/>
<circle cx="118" cy="382.45" r="4.6" fill="none" stroke="#000" stroke-width="1.7"/>
<line x1="162.6" y1="320" x2="162.6" y2="522" stroke="#000" stroke-width="0.9" stroke-dasharray="20 3 3 3"/>
<line x1="162.6" y1="522" x2="162.6" y2="557" stroke="#000" stroke-width="0.9"/>
<line x1="65" y1="408.2" x2="286.4" y2="408.2" stroke="#000" stroke-width="0.9"/>
<line x1="275.9" y1="424.3" x2="382" y2="424.3" stroke="#000" stroke-width="0.9" stroke-dasharray="20 3 3 3"/>
<path d="M94.4 509.3 L94.4 358.1 L98.9 344.4 Q100.5 340.4 104 340.4 L264.2 340.4 L284.8 358.5 L320.5 358.5" fill="none" stroke="#000" stroke-width="1.5" stroke-linejoin="round" />
<path d="M218.2 340.4 L250.9 372.4 L284.2 372.4 L298.2 359" fill="none" stroke="#000" stroke-width="1.5" stroke-linejoin="round" />
<circle cx="255.8" cy="355.2" r="9.7" fill="none" stroke="#000" stroke-width="1.4"/>
<line x1="244" y1="355.2" x2="268" y2="355.2" stroke="#000" stroke-width="0.7"/>
<line x1="255.8" y1="343" x2="255.8" y2="370" stroke="#000" stroke-width="0.7"/>
<circle cx="209.7" cy="355.2" r="5.8" fill="none" stroke="#000" stroke-width="1.4"/>
<polyline points="94.4,358.6 87.5,358.6 87.5,508.1 94.4,508.1" fill="none" stroke="#000" stroke-width="1.4" stroke-linejoin="round"/>
<polygon points="84.2,391.3 87.5,391.3 87.5,400 84.2,400" fill="none" stroke="#000" stroke-width="1.1" stroke-linejoin="round"/>
<line x1="84.2" y1="395.6" x2="87.5" y2="395.6" stroke="#000" stroke-width="0.8"/>
<polygon points="84.2,467.4 87.5,467.4 87.5,476 84.2,476" fill="none" stroke="#000" stroke-width="1.1" stroke-linejoin="round"/>
<line x1="84.2" y1="471.7" x2="87.5" y2="471.7" stroke="#000" stroke-width="0.8"/>
<polyline points="298.8,359 298.8,466.4 307.5,466.4" fill="none" stroke="#000" stroke-width="1.4" stroke-linejoin="round"/>
<line x1="310.2" y1="358.5" x2="310.2" y2="491" stroke="#000" stroke-width="2.0"/>
<polyline points="320.5,358.5 320.5,491 303.9,491" fill="none" stroke="#000" stroke-width="1.5" stroke-linejoin="round"/>
<polyline points="320.5,379.3 343.3,384.1 343.3,464.2 320.5,469.3" fill="none" stroke="#000" stroke-width="1.5" stroke-linejoin="round"/>
<line x1="343.3" y1="384.1" x2="368.3" y2="364.9" stroke="#000" stroke-width="1.5"/>
<line x1="343.3" y1="464.2" x2="368.3" y2="485" stroke="#000" stroke-width="1.5"/>
<polygon points="368.3,342.4 376,342.4 376,506.5 368.3,506.5" fill="none" stroke="#000" stroke-width="1.5" stroke-linejoin="round"/>
<path d="M94.4 509.3 Q96 517 99.4 518.6 L111 518.6 L111 522.5 L139.9 522.5 L139.9 518.6 L236 518.6 L236 522.5 L290 522.5 Q303.2 520 303.2 510 L303.2 490.5" fill="none" stroke="#000" stroke-width="1.5" stroke-linejoin="round" />
<path d="M94.4 482.6 L121.8 482.6 Q134 484 137.7 492 Q141 500 139.9 503 Q138 508 130 508 L94.4 508.1" fill="none" stroke="#000" stroke-width="1.5" stroke-linejoin="round" />
<path d="M213.6 481 L206.5 500.6 Q205.5 508 213 508.1 L273.6 508.1" fill="none" stroke="#000" stroke-width="1.5" stroke-linejoin="round" />
<circle cx="284.8" cy="508.5" r="5.8" fill="none" stroke="#000" stroke-width="1.4"/>
<path d="M273.6 508.1 A11.5 11.5 0 1 1 284.4 520" fill="none" stroke="#000" stroke-width="1.4" stroke-linejoin="round" />
<circle cx="185.6" cy="472.9" r="16" fill="#fff" stroke="#000" stroke-width="1.4"/>
<circle cx="163.2" cy="502" r="5.8" fill="none" stroke="#000" stroke-width="1.4"/>
<line x1="125.3" y1="502.8" x2="125.3" y2="527.3" stroke="#000" stroke-width="0.7"/>
<line x1="250.5" y1="499.9" x2="250.5" y2="527.3" stroke="#000" stroke-width="0.7"/>
<line x1="84.4" y1="294.7" x2="84.4" y2="391.3" stroke="#000" stroke-width="0.9"/>
<line x1="309.5" y1="294.7" x2="309.5" y2="358" stroke="#000" stroke-width="0.9"/>
<line x1="375.5" y1="294.7" x2="375.5" y2="342" stroke="#000" stroke-width="0.9"/>
<line x1="84" y1="299.9" x2="309.5" y2="299.9" stroke="#000" stroke-width="0.9"/>
<polygon points="84,299.9 97,297.7 97,302.1" fill="#000"/>
<polygon points="309.5,299.9 296.5,302.1 296.5,297.7" fill="#000"/>
<line x1="309.5" y1="299.9" x2="375.5" y2="299.9" stroke="#000" stroke-width="0.9"/>
<polygon points="309.5,299.9 322.5,297.7 322.5,302.1" fill="#000"/>
<polygon points="375.5,299.9 362.5,302.1 362.5,297.7" fill="#000"/>
<path transform="translate(197.4 287.2)" d="M-4.29 -6.25 L-11.76 2.5 L-5.76 2.5 M-6.6 -0.25 L-8.59 6.25 M-0.55 -6.25 L4.91 -6.25 L-0.03 -1 L1.12 -1 L2.31 0.38 L2.08 3 L0.63 5.5 L-1.5 6.25 L-4.66 6.25 M12.91 -6.25 L8.02 -6.25 L5.73 -0.63 L8.3 -1.5 L10.16 -0.63 L10.24 2.5 L8.67 5.38 L6.5 6.25 L3.34 6.25" fill="none" stroke="#000" stroke-width="1.4" stroke-linecap="round" stroke-linejoin="round"/>
<path transform="translate(342.3 287.2)" d="M-5.87 -3.5 L-4.55 -5.5 L-2.38 -6.25 L-0.4 -5.62 L0.01 -3.5 L-0.86 -1.25 L-2.51 0.88 L-8.85 6.25 L-2.97 6.25 M8.85 -6.25 L3.96 -6.25 L1.67 -0.63 L4.23 -1.5 L6.09 -0.63 L6.17 2.5 L4.6 5.38 L2.44 6.25 L-0.72 6.25" fill="none" stroke="#000" stroke-width="1.4" stroke-linecap="round" stroke-linejoin="round"/>
<line x1="162.6" y1="325.2" x2="309.5" y2="325.2" stroke="#000" stroke-width="0.9"/>
<polygon points="162.6,325.2 175.6,323 175.6,327.4" fill="#000"/>
<polygon points="309.5,325.2 296.5,327.4 296.5,323" fill="#000"/>
<path transform="translate(235.8 312.9)" d="M-9.87 -3.5 L-8.55 -5.5 L-6.38 -6.25 L-4.4 -5.62 L-3.99 -3.5 L-4.86 -1.25 L-6.51 0.88 L-12.85 6.25 L-6.97 6.25 M-0.9 -6.25 L4.85 -6.25 L-3 6.25 M7.1 -6.25 L12.85 -6.25 L5 6.25" fill="none" stroke="#000" stroke-width="1.4" stroke-linecap="round" stroke-linejoin="round"/>
<line x1="35" y1="340.4" x2="102" y2="340.4" stroke="#000" stroke-width="0.9"/>
<line x1="35" y1="522.5" x2="111" y2="522.5" stroke="#000" stroke-width="0.9"/>
<line x1="40.4" y1="340.4" x2="40.4" y2="522.5" stroke="#000" stroke-width="0.9"/>
<polygon points="40.4,340.4 42.6,353.4 38.2,353.4" fill="#000"/>
<polygon points="40.4,522.5 38.2,509.5 42.6,509.5" fill="#000"/>
<path transform="translate(27.3 432.2) rotate(-90)" d="M-3.54 -6.25 L-11.01 2.5 L-5.01 2.5 M-5.85 -0.25 L-7.84 6.25 M-1.16 -2.75 L3.91 -6.25 L0.09 6.25 M10.96 -6.25 L3.49 2.5 L9.49 2.5 M8.65 -0.25 L6.66 6.25" fill="none" stroke="#000" stroke-width="1.4" stroke-linecap="round" stroke-linejoin="round"/>
<line x1="70.3" y1="408.3" x2="70.3" y2="522.5" stroke="#000" stroke-width="0.9"/>
<polygon points="70.3,408.3 72.5,421.3 68.1,421.3" fill="#000"/>
<polygon points="70.3,522.5 68.1,509.5 72.5,509.5" fill="#000"/>
<path transform="translate(54.5 471.4) rotate(-90)" d="M-9.93 -3.5 L-8.61 -5.5 L-6.45 -6.25 L-4.46 -5.62 L-4.05 -3.5 L-4.92 -1.25 L-6.57 0.88 L-12.91 6.25 L-7.04 6.25 M4.25 -5.62 L2.27 -6.25 L-0.17 -5 L-2.24 -1.5 L-3.64 2.5 L-3.85 5.5 L-1.85 6.25 L0.44 5.5 L2.12 2.88 L2.53 0 L1.11 -1.5 L-0.81 -1 L-2.71 1 M12.91 -6.25 L8.02 -6.25 L5.73 -0.63 L8.3 -1.5 L10.16 -0.63 L10.24 2.5 L8.67 5.38 L6.5 6.25 L3.34 6.25" fill="none" stroke="#000" stroke-width="1.4" stroke-linecap="round" stroke-linejoin="round"/>
<path transform="translate(61 453.4) rotate(-90)" d="M-3.92 0.4 L-0.32 0.4 M1.78 -1.76 L5.02 -4 L2.58 4" fill="none" stroke="#000" stroke-width="1.4" stroke-linecap="round" stroke-linejoin="round"/>
<line x1="281.1" y1="390.3" x2="281.1" y2="474.1" stroke="#000" stroke-width="0.9"/>
<polygon points="281.1,408.3 278.9,395.3 283.3,395.3" fill="#000"/>
<polygon points="281.1,424.3 283.3,437.3 278.9,437.3" fill="#000"/>
<path transform="translate(267.9 453.8) rotate(-90)" d="M-10.8 -6.25 L-5.34 -6.25 L-10.28 -1 L-9.13 -1 L-7.94 0.38 L-8.17 3 L-9.62 5.5 L-11.75 6.25 L-14.91 6.25 M-3.93 -3.5 L-2.61 -5.5 L-0.45 -6.25 L1.54 -5.62 L1.95 -3.5 L1.08 -1.25 L-0.57 0.88 L-6.91 6.25 L-1.04 6.25 M3.17 4.75 L0.37 9 M9.45 -6.25 L14.91 -6.25 L9.97 -1 L11.12 -1 L12.31 0.38 L12.08 3 L10.63 5.5 L8.5 6.25 L5.34 6.25" fill="none" stroke="#000" stroke-width="1.4" stroke-linecap="round" stroke-linejoin="round"/>
<line x1="111.2" y1="522.5" x2="111.2" y2="590" stroke="#000" stroke-width="0.9"/>
<line x1="264.8" y1="508" x2="264.8" y2="590" stroke="#000" stroke-width="0.9"/>
<line x1="162.4" y1="552.4" x2="264.8" y2="552.4" stroke="#000" stroke-width="0.9"/>
<polygon points="162.4,552.4 175.4,550.2 175.4,554.6" fill="#000"/>
<polygon points="264.8,552.4 251.8,554.6 251.8,550.2" fill="#000"/>
<line x1="111.2" y1="585.5" x2="264.8" y2="585.5" stroke="#000" stroke-width="0.9"/>
<polygon points="111.2,585.5 124.2,583.3 124.2,587.7" fill="#000"/>
<polygon points="264.8,585.5 251.8,587.7 251.8,583.3" fill="#000"/>
<path transform="translate(214.4 540.1)" d="M-9.14 -2.71 L-4.15 -6.15 L-7.91 6.15 M-5.04 5.54 L-3.09 6.15 L-0.69 4.92 L1.34 1.48 L2.72 -2.46 L2.93 -5.41 L0.96 -6.15 L-1.29 -5.41 L-2.99 -2.71 L-3.35 0 L-1.95 1.48 L-0.07 0.98 L1.81 -0.98 M8.95 -6.15 L10.61 -5.54 L10.9 -3.08 L9.02 3.08 L7.23 5.54 L5.19 6.15 L3.53 5.54 L3.24 3.08 L5.12 -3.08 L6.91 -5.54 L8.95 -6.15" fill="none" stroke="#000" stroke-width="1.4" stroke-linecap="round" stroke-linejoin="round"/>
<path transform="translate(187.9 572.9)" d="M-9.83 -3.44 L-8.54 -5.41 L-6.4 -6.15 L-4.45 -5.54 L-4.05 -3.44 L-4.9 -1.23 L-6.52 0.86 L-12.77 6.15 L-6.98 6.15 M-4.12 5.54 L-2.17 6.15 L0.23 4.92 L2.27 1.48 L3.64 -2.46 L3.85 -5.41 L1.88 -6.15 L-0.37 -5.41 L-2.06 -2.71 L-2.43 0 L-1.03 1.48 L0.86 0.98 L2.73 -0.98 M11.44 -3.32 L11.58 -4.05 L11.55 -4.74 L11.34 -5.32 L10.97 -5.77 L10.47 -6.05 L9.88 -6.15 L9.22 -6.05 L8.55 -5.77 L7.91 -5.32 L7.34 -4.74 L6.89 -4.05 L6.58 -3.32 L6.44 -2.59 L6.48 -1.91 L6.68 -1.32 L7.05 -0.87 L7.55 -0.59 L8.15 -0.49 L8.8 -0.59 L9.48 -0.87 L10.12 -1.32 L10.68 -1.91 L11.13 -2.59 L11.44 -3.32 M10.06 2.71 L10.23 1.81 L10.2 0.98 L9.96 0.27 L9.52 -0.28 L8.93 -0.62 L8.22 -0.74 L7.44 -0.62 L6.63 -0.28 L5.87 0.27 L5.19 0.98 L4.65 1.81 L4.28 2.71 L4.1 3.6 L4.14 4.43 L4.38 5.14 L4.81 5.69 L5.4 6.03 L6.11 6.15 L6.9 6.03 L7.7 5.69 L8.47 5.14 L9.14 4.43 L9.69 3.6 L10.06 2.71" fill="none" stroke="#000" stroke-width="1.4" stroke-linecap="round" stroke-linejoin="round"/>
<line x1="376" y1="342.2" x2="437.9" y2="342.2" stroke="#000" stroke-width="0.9"/>
<line x1="376" y1="506.6" x2="437.9" y2="506.6" stroke="#000" stroke-width="0.9"/>
<line x1="433.3" y1="342.2" x2="433.3" y2="506.6" stroke="#000" stroke-width="0.9"/>
<polygon points="433.3,342.2 435.5,355.2 431.1,355.2" fill="#000"/>
<polygon points="433.3,506.6 431.1,493.6 435.5,493.6" fill="#000"/>
<path transform="translate(420.2 424.4) rotate(-90)" d="M-5.35 6.25 L-1.53 -6.25 L3.29 -6.25 L4.62 -5 L4.35 -3 L3.4 -1 L1.3 0.25 L-3.51 0.25" fill="none" stroke="#000" stroke-width="1.4" stroke-linecap="round" stroke-linejoin="round"/>
<line x1="745.9" y1="301.4" x2="745.9" y2="382" stroke="#000" stroke-width="0.9"/>
<line x1="898.4" y1="301.4" x2="898.4" y2="382.7" stroke="#000" stroke-width="0.9"/>
<line x1="824.5" y1="301" x2="824.5" y2="531.8" stroke="#000" stroke-width="0.9" stroke-dasharray="20 3 3 3"/>
<line x1="745.9" y1="306.3" x2="824.5" y2="306.3" stroke="#000" stroke-width="0.9"/>
<polygon points="745.9,306.3 758.9,304.1 758.9,308.5" fill="#000"/>
<polygon points="824.5,306.3 811.5,308.5 811.5,304.1" fill="#000"/>
<line x1="824.5" y1="306.3" x2="898.6" y2="306.3" stroke="#000" stroke-width="0.9"/>
<polygon points="824.5,306.3 837.5,304.1 837.5,308.5" fill="#000"/>
<polygon points="898.6,306.3 885.6,308.5 885.6,304.1" fill="#000"/>
<path transform="translate(785.5 293.7)" d="M-9.01 -2.71 L-4.02 -6.15 L-7.78 6.15 M3.85 -6.15 L-0.96 -6.15 L-3.22 -0.62 L-0.69 -1.48 L1.14 -0.62 L1.22 2.46 L-0.33 5.29 L-2.46 6.15 L-5.57 6.15 M6.35 -6.15 L11.72 -6.15 L6.86 -0.98 L7.99 -0.98 L9.16 0.37 L8.94 2.95 L7.51 5.41 L5.41 6.15 L2.3 6.15" fill="none" stroke="#000" stroke-width="1.4" stroke-linecap="round" stroke-linejoin="round"/>
<path transform="translate(861 293.7)" d="M-9.07 -2.71 L-4.09 -6.15 L-7.85 6.15 M3.79 -6.15 L-1.02 -6.15 L-3.28 -0.62 L-0.75 -1.48 L1.08 -0.62 L1.15 2.46 L-0.39 5.29 L-2.52 6.15 L-5.63 6.15 M8.89 -6.15 L10.55 -5.54 L10.84 -3.08 L8.96 3.08 L7.17 5.54 L5.13 6.15 L3.47 5.54 L3.18 3.08 L5.06 -3.08 L6.85 -5.54 L8.89 -6.15" fill="none" stroke="#000" stroke-width="1.4" stroke-linecap="round" stroke-linejoin="round"/>
<line x1="894.5" y1="323.2" x2="894.5" y2="343" stroke="#000" stroke-width="0.9"/>
<line x1="875.4" y1="328.6" x2="930" y2="328.6" stroke="#000" stroke-width="0.9"/>
<polygon points="894.5,328.6 885.5,330.1 885.5,327.1" fill="#000"/>
<polygon points="898.6,328.6 907.6,327.1 907.6,330.1" fill="#000"/>
<path transform="translate(916.6 317.7)" d="M3.41 -5.75 L-3.46 2.3 L2.06 2.3 M1.28 -0.23 L-0.54 5.75" fill="none" stroke="#000" stroke-width="1.4" stroke-linecap="round" stroke-linejoin="round"/>
<polyline points="752.7,382.7 749.1,382.7 749.1,434.5 752.7,434.5" fill="none" stroke="#000" stroke-width="1.3" stroke-linejoin="round"/>
<polyline points="749.1,385.5 745.5,385.5 745.5,431.8 749.1,431.8" fill="none" stroke="#000" stroke-width="1.3" stroke-linejoin="round"/>
<polyline points="752.7,473.2 752.7,343.1 894.5,343.1 894.5,382.7" fill="none" stroke="#000" stroke-width="1.4" stroke-linejoin="round"/>
<polyline points="752.7,473.2 768.2,473.2 768.2,493.6" fill="none" stroke="#000" stroke-width="1.4" stroke-linejoin="round"/>
<path d="M770.4 525.8 L770.4 362.7 Q772 341 782.7 340 L865.5 340 Q874 341 876.9 351.8 L876.9 525.8" fill="none" stroke="#000" stroke-width="1.5" stroke-linejoin="round" />
<path d="M779.5 510 L779.5 359 Q779.5 356.7 782 356.7 L867 356.7 Q869.1 356.7 869.1 359 L869.1 505 Q869 510 864 510 Z" fill="none" stroke="#000" stroke-width="1.4" stroke-linejoin="round" />
<path d="M818.7 356.7 L818.7 340 Q818.7 337.6 821 337.6 L828 337.6 Q830.5 337.6 830.5 340 L830.5 356.7" fill="none" stroke="#000" stroke-width="1.4" stroke-linejoin="round" />
<line x1="783.6" y1="374.2" x2="864.5" y2="374.2" stroke="#000" stroke-width="1.5"/>
<line x1="783.6" y1="415.1" x2="864.5" y2="415.1" stroke="#000" stroke-width="1.5"/>
<line x1="784.5" y1="441.3" x2="863.6" y2="441.3" stroke="#000" stroke-width="1.5"/>
<line x1="784.5" y1="484.1" x2="863.6" y2="484.1" stroke="#000" stroke-width="1.5"/>
<circle cx="798.2" cy="395.5" r="5" fill="none" stroke="#000" stroke-width="1.3"/>
<circle cx="850.8" cy="471.8" r="5" fill="none" stroke="#000" stroke-width="1.3"/>
<line x1="744.5" y1="408.5" x2="903.6" y2="408.5" stroke="#000" stroke-width="0.9" stroke-dasharray="20 3 3 3"/>
<polyline points="894.5,382.7 898.2,382.7 898.2,473.2" fill="none" stroke="#000" stroke-width="1.3" stroke-linejoin="round"/>
<line x1="894.5" y1="382.7" x2="894.5" y2="473.2" stroke="#000" stroke-width="1.3"/>
<polyline points="895,473.2 880,473.2 880,493.6" fill="none" stroke="#000" stroke-width="1.3" stroke-linejoin="round"/>
<line x1="770.9" y1="515.4" x2="877.3" y2="515.4" stroke="#000" stroke-width="1.3"/>
<line x1="770.9" y1="525.8" x2="877.3" y2="525.8" stroke="#000" stroke-width="1.4"/>
<path d="M770.9 499 Q772 510 779 515.4" fill="none" stroke="#000" stroke-width="1.2" stroke-linejoin="round" />
<path d="M877.3 499 Q876 510 869 515.4" fill="none" stroke="#000" stroke-width="1.2" stroke-linejoin="round" />
<line x1="859.5" y1="510" x2="859.5" y2="531.8" stroke="#000" stroke-width="0.7"/>
<circle cx="887.8" cy="362.4" r="17.3" fill="none" stroke="#000" stroke-width="1.0"/>
<line x1="902.7" y1="370.9" x2="951.8" y2="396" stroke="#000" stroke-width="0.9"/>
<line x1="951.8" y1="396" x2="977.7" y2="396" stroke="#000" stroke-width="0.9"/>
<path transform="translate(965.2 372)" d="M5.74 -12.75 L-6.38 -12.75 L-6.38 12.75 L0.64 12.75 L4.85 10.71 L6.38 5.61 L4.85 0.51 L0.64 -1.53 L-6.38 -1.53" fill="none" stroke="#000" stroke-width="2.2" stroke-linecap="round" stroke-linejoin="round"/>
<path d="M876.5 357 Q877.5 353 882 353 L894.6 353 L894.6 371.7 L882 371.7 Q877.5 371 876.5 367 Z" fill="#fff" stroke="#000" stroke-width="0.1" stroke-linejoin="round" stroke-opacity="0"/>
<clipPath id="hc3"><path clip-rule="evenodd" d="M876.5 357 Q877.5 353 882 353 L894.6 353 L894.6 371.7 L882 371.7 Q877.5 371 876.5 367 Z M894.6 358.4 L882.3 358.4 L876.9 362.4 L882.3 365.3 L894.6 365.3 Z"/></clipPath>
<g clip-path="url(#hc3)"><line x1="851" y1="374" x2="875" y2="350" stroke="#000" stroke-width="0.8"/><line x1="855.52" y1="374" x2="879.52" y2="350" stroke="#000" stroke-width="0.8"/><line x1="860.05" y1="374" x2="884.05" y2="350" stroke="#000" stroke-width="0.8"/><line x1="864.57" y1="374" x2="888.57" y2="350" stroke="#000" stroke-width="0.8"/><line x1="869.1" y1="374" x2="893.1" y2="350" stroke="#000" stroke-width="0.8"/><line x1="873.62" y1="374" x2="897.62" y2="350" stroke="#000" stroke-width="0.8"/><line x1="878.15" y1="374" x2="902.15" y2="350" stroke="#000" stroke-width="0.8"/><line x1="882.67" y1="374" x2="906.67" y2="350" stroke="#000" stroke-width="0.8"/><line x1="887.2" y1="374" x2="911.2" y2="350" stroke="#000" stroke-width="0.8"/><line x1="891.72" y1="374" x2="915.72" y2="350" stroke="#000" stroke-width="0.8"/></g>
<path d="M876.5 357 Q877.5 353 882 353 L894.6 353 L894.6 371.7 L882 371.7 Q877.5 371 876.5 367 Z" fill="none" stroke="#000" stroke-width="1.0" stroke-linejoin="round" />
<path d="M894.6 358.4 L882.3 358.4 L876.9 362.4 L882.3 365.3 L894.6 365.3 Z" fill="none" stroke="#000" stroke-width="1.2" stroke-linejoin="round" />
<line x1="872.2" y1="362.4" x2="900.4" y2="362.4" stroke="#000" stroke-width="0.6" stroke-dasharray="20 3 3 3"/>
<circle cx="787.8" cy="517.6" r="16.9" fill="none" stroke="#000" stroke-width="1.0"/>
<line x1="779" y1="534.5" x2="750.4" y2="585.8" stroke="#000" stroke-width="0.9"/>
<line x1="750.4" y1="585.8" x2="720.5" y2="585.8" stroke="#000" stroke-width="0.9"/>
<path transform="translate(735.8 562)" d="M-6.8 12.15 L-0 -12.15 L6.8 12.15 M-4.22 4.62 L4.22 4.62" fill="none" stroke="#000" stroke-width="2.2" stroke-linecap="round" stroke-linejoin="round"/>
<line x1="770.9" y1="526" x2="877.3" y2="526" stroke="#000" stroke-width="1.5"/>
<path d="M778.7 526.4 L778.7 512 Q781 508.5 788 508.5 Q795.5 508.5 797.8 512 L797.8 526.4 Z" fill="#fff" stroke="#000" stroke-width="0.1" stroke-linejoin="round" stroke-opacity="0"/>
<clipPath id="hc4"><path clip-rule="evenodd" d="M778.7 526.4 L778.7 512 Q781 508.5 788 508.5 Q795.5 508.5 797.8 512 L797.8 526.4 Z M784.1 526 L784.1 511 Q788.4 507.5 792.8 511 L792.8 526 Z"/></clipPath>
<g clip-path="url(#hc4)"><line x1="755" y1="528" x2="777" y2="506" stroke="#000" stroke-width="0.8"/><line x1="759.52" y1="528" x2="781.52" y2="506" stroke="#000" stroke-width="0.8"/><line x1="764.05" y1="528" x2="786.05" y2="506" stroke="#000" stroke-width="0.8"/><line x1="768.57" y1="528" x2="790.57" y2="506" stroke="#000" stroke-width="0.8"/><line x1="773.1" y1="528" x2="795.1" y2="506" stroke="#000" stroke-width="0.8"/><line x1="777.62" y1="528" x2="799.62" y2="506" stroke="#000" stroke-width="0.8"/><line x1="782.15" y1="528" x2="804.15" y2="506" stroke="#000" stroke-width="0.8"/><line x1="786.67" y1="528" x2="808.67" y2="506" stroke="#000" stroke-width="0.8"/><line x1="791.2" y1="528" x2="813.2" y2="506" stroke="#000" stroke-width="0.8"/><line x1="795.72" y1="528" x2="817.72" y2="506" stroke="#000" stroke-width="0.8"/></g>
<path d="M778.7 526.4 L778.7 512 Q781 508.5 788 508.5 Q795.5 508.5 797.8 512 L797.8 526.4 Z" fill="none" stroke="#000" stroke-width="1.0" stroke-linejoin="round" />
<path d="M784.1 526 L784.1 511 Q788.4 507.5 792.8 511 L792.8 526 Z" fill="none" stroke="#000" stroke-width="1.3" stroke-linejoin="round" />
<line x1="785.2" y1="512.3" x2="785.2" y2="524.6" stroke="#000" stroke-width="0.6"/>
<line x1="791.3" y1="512.3" x2="791.3" y2="524.6" stroke="#000" stroke-width="0.6"/>
<line x1="788.1" y1="509.5" x2="788.1" y2="531" stroke="#000" stroke-width="0.6"/>
<circle cx="517.1" cy="423.8" r="22.8" fill="none" stroke="#000" stroke-width="1.5"/>
<path d="M513.1 410.54 A14 14 0 1 0 521.6 410.54 L521.6 408.6 L513.1 408.6 Z" fill="none" stroke="#000" stroke-width="1.5" stroke-linejoin="round" />
<line x1="488" y1="423.8" x2="546" y2="423.8" stroke="#000" stroke-width="0.9" stroke-dasharray="20 3 3 3"/>
<line x1="517.1" y1="395.5" x2="517.1" y2="451.8" stroke="#000" stroke-width="0.9" stroke-dasharray="20 3 3 3"/>
<line x1="513.1" y1="386.4" x2="513.1" y2="408.6" stroke="#000" stroke-width="0.9"/>
<line x1="521.6" y1="386.4" x2="521.6" y2="408.6" stroke="#000" stroke-width="0.9"/>
<line x1="477.5" y1="391" x2="539.9" y2="391" stroke="#000" stroke-width="0.9"/>
<polygon points="513.1,391 504.1,392.5 504.1,389.5" fill="#000"/>
<polygon points="521.6,391 530.6,389.5 530.6,392.5" fill="#000"/>
<path transform="translate(488.1 380.3)" d="M-1.32 -4.5 L-3.25 1.8 L-2.91 4.23 L-1.11 4.5 L0.84 3.42 L2.42 0.9 M4.08 -4.5 L1.32 4.5" fill="none" stroke="#000" stroke-width="1.4" stroke-linecap="round" stroke-linejoin="round"/>
<line x1="479" y1="407.7" x2="513" y2="407.7" stroke="#000" stroke-width="0.9"/>
<line x1="479" y1="438.1" x2="517" y2="438.1" stroke="#000" stroke-width="0.9"/>
<line x1="482" y1="407.7" x2="482" y2="438.1" stroke="#000" stroke-width="0.9"/>
<polygon points="482,407.7 483.5,416.7 480.5,416.7" fill="#000"/>
<polygon points="482,438.1 480.5,429.1 483.5,429.1" fill="#000"/>
<path transform="translate(469 422.9) rotate(-70)" d="M0.93 -5 L-1.76 3.8 L-1.33 5 L0.22 4.5 M-1.45 -1.8 L2.15 -1.8" fill="none" stroke="#000" stroke-width="1.4" stroke-linecap="round" stroke-linejoin="round"/>
<line x1="503.4" y1="430.5" x2="503.4" y2="483.8" stroke="#000" stroke-width="0.9"/>
<line x1="531.4" y1="430.5" x2="531.4" y2="483.8" stroke="#000" stroke-width="0.9"/>
<line x1="457.7" y1="478.6" x2="532.3" y2="478.6" stroke="#000" stroke-width="0.9"/>
<polygon points="503.4,478.6 512.4,477.1 512.4,480.1" fill="#000"/>
<polygon points="531.4,478.6 522.4,480.1 522.4,477.1" fill="#000"/>
<path transform="translate(474.4 465.5)" d="M-1.06 -0.63 L-0.86 -1.6 L-0.89 -2.5 L-1.13 -3.28 L-1.57 -3.87 L-2.18 -4.25 L-2.91 -4.38 L-3.73 -4.25 L-4.57 -3.87 L-5.37 -3.28 L-6.08 -2.5 L-6.66 -1.6 L-7.06 -0.63 L-7.25 0.35 L-7.23 1.25 L-6.99 2.03 L-6.55 2.62 L-5.94 3 L-5.21 3.12 L-4.39 3 L-3.55 2.62 L-2.75 2.03 L-2.03 1.25 L-1.46 0.35 L-1.06 -0.62 M-8.66 6.25 L0.24 -6.5 M9.29 -6.25 L5.46 6.25 M7.38 0 L6.5 -2.25 L4.08 -2.5 L1.44 0 L0.05 3.5 L0.85 6 L2.96 6.25 L6.15 4" fill="none" stroke="#000" stroke-width="1.4" stroke-linecap="round" stroke-linejoin="round"/>
</svg></body></html>
